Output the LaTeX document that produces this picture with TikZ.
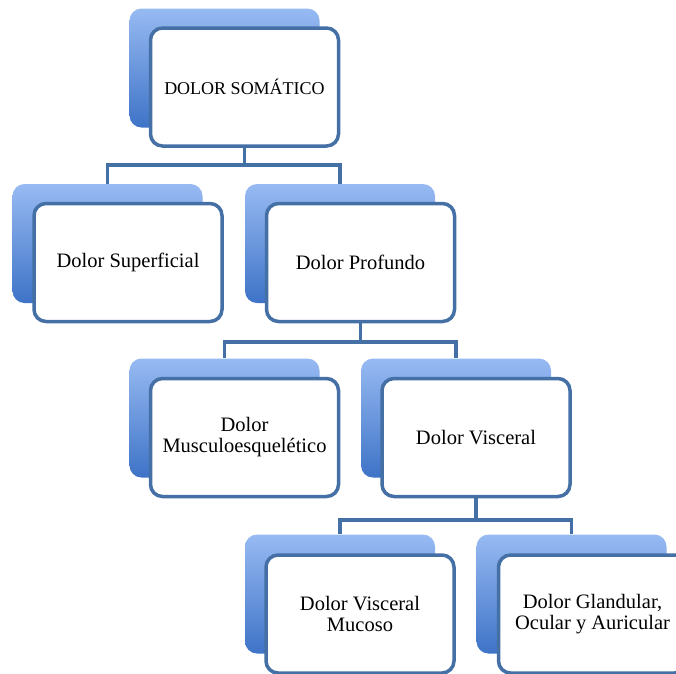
\documentclass[tikz,border=0pt]{standalone}
\usepackage{fontspec}
\setmainfont{Liberation Serif}
\usetikzlibrary{backgrounds}
\definecolor{edgeblue}{HTML}{4470A5}
\definecolor{shadetop}{HTML}{97BAF2}
\definecolor{shadebot}{HTML}{3E73C7}
\tikzset{
  cardfront/.style={draw=edgeblue, line width=3.5pt, fill=white, rounded corners=12pt,
    minimum width=188pt, minimum height=118pt, inner sep=0pt, align=center,
    font=\fontsize{20.5}{21}\selectfont},
  cardback/.style={rounded corners=12pt, top color=shadetop, bottom color=shadebot,
    minimum width=190pt, minimum height=119pt, inner sep=0pt},
  conn/.style={draw=edgeblue, line width=3.5pt}
}
\begin{document}
\begin{tikzpicture}[x=1pt,y=-1pt]
\useasboundingbox (0,0) rectangle (676,673);
\clip (0,0) rectangle (676,673);
% shaded backing cards
\node[cardback] (topb)   at (224.5,68) {};
\node[cardback] (supb)   at (107.5,243.5) {};
\node[cardback] (profb)  at (340,243.5) {};
\node[cardback] (muscb)  at (224.5,418) {};
\node[cardback] (viscb)  at (456,418) {};
\node[cardback] (mucb)   at (340,594) {};
\node[cardback] (glandb) at (571.5,594) {};
% white front cards
\node[cardfront, font=\fontsize{18}{20}\selectfont] (top) at (244.5,87) {DOLOR SOMÁTICO};
\node[cardfront] (sup)   at (128,262.5) {Dolor Superficial};
\node[cardfront] (prof)  at (360.5,262.5) {Dolor Profundo};
\node[cardfront] (musc)  at (244.5,437.5) {Dolor\\Musculoesquelético};
\node[cardfront] (visc)  at (476,437.5) {Dolor Visceral};
\node[cardfront] (muc)   at (360,614) {Dolor Visceral\\Mucoso};
\node[cardfront] (gland) at (592.5,614) {Dolor Glandular,\\Ocular y Auricular};
% bus levels
\coordinate (bus1) at (0,165);
\coordinate (bus2) at (0,342);
\coordinate (bus3) at (0,520);
\begin{scope}[on background layer]
\draw[conn] (top.south) -- (top.south |- bus1) -| (supb.north);
\draw[conn] (top.south |- bus1) -| (profb.north);
\draw[conn] (prof.south) -- (prof.south |- bus2) -| (muscb.north);
\draw[conn] (prof.south |- bus2) -| (viscb.north);
\draw[conn] (visc.south) -- (visc.south |- bus3) -| (mucb.north);
\draw[conn] (visc.south |- bus3) -| (glandb.north);
\end{scope}
\end{tikzpicture}
\end{document}
